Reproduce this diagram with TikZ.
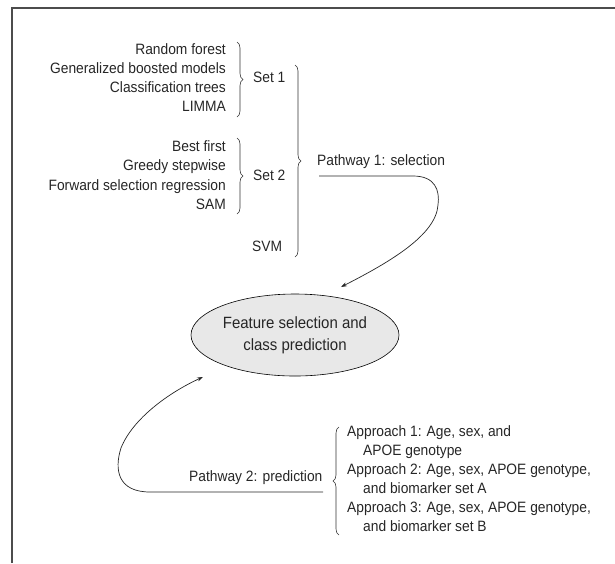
\documentclass[tikz,border=0pt]{standalone}
\usepackage{fontspec}
\setmainfont{Liberation Sans}[FakeStretch=0.92]
\usetikzlibrary{shapes.geometric, decorations.pathreplacing, arrows.meta}

\tikzset{
	lbl/.style={inner sep=0pt, text height=11pt, text depth=3pt, text=black!85, font=\fontsize{15}{19}\selectfont},
	brc/.style={decorate, decoration={brace, amplitude=6pt}, line width=0.6pt, black!80},
	flow/.style={line width=0.7pt, black!85, -{Stealth[length=6pt, width=4pt]}},
}

\begin{document}
\begin{tikzpicture}[x=1pt, y=-1pt]
		\useasboundingbox (0,0) rectangle (615,563);
		\draw[line width=1.5pt, black!70] (12,563) -- (12,8) -- (615,8);
		% set 1 and set 2 methods
		\foreach \t/\y [count=\i] in {Random forest/50, Generalized boosted models/69, Classification trees/88, LIMMA/107}
		{
			\node[lbl, anchor=east] (ma\i) at (226,\y) {\t};
		}
		\foreach \t/\y [count=\i] in {Best first/147, Greedy stepwise/166.5, Forward selection regression/186, SAM/205.5}
		{
			\node[lbl, anchor=east] (mb\i) at (226,\y) {\t};
		}
		\draw[brc] (237,42) -- (237,117);
		\draw[brc] (237,138) -- (237,214);
		\node[lbl, anchor=west] (set1) at (253,78) {Set 1};
		\node[lbl, anchor=west] (set2) at (253,176) {Set 2};
		\node[lbl, anchor=west] (svm) at (252,247) {SVM};
		\draw[brc] (295,65) -- (295,257);
		
		\node[ellipse, draw, line width=0.6pt, fill=gray!18, minimum width=208pt, minimum height=82pt, inner sep=0pt, align=center, text=black!85, font=\fontsize{16.3}{22}\selectfont] (fsp) at (295,335) {Feature selection and\\class prediction};
		
		% pathway 1
		\node[lbl, anchor=west] (pw1) at (317,161) {Pathway 1: selection};
		\coordinate (pw1s) at (319,176);
		\coordinate (pw1e) at (341,287);
		\draw[flow] (pw1s) -- (413,176) .. controls (435,176) and (440,190) .. (438,205) .. controls (436,235) and (390,262) .. (pw1e);
		
		% pathway 2
		\node[lbl, anchor=west] (pw2) at (189,477) {Pathway 2: prediction};
		\coordinate (pw2s) at (323,492);
		\coordinate (pw2e) at (203,377);
		\draw[flow] (pw2s) -- (150,492) .. controls (118,492) and (114,470) .. (121,448) .. controls (133,418) and (170,392) .. (pw2e);
		\draw[brc] (339,535) -- (339,427);
		\foreach \x/\y/\t [count=\i] in {347/432/{Approach 1: Age, sex, and}, 363/451/{APOE genotype}, 347/470/{Approach 2: Age, sex, APOE genotype,}, 363/489/{and biomarker set A}, 347/508/{Approach 3: Age, sex, APOE genotype,}, 363/527/{and biomarker set B}}
		{
			\node[lbl, anchor=west] (ap\i) at (\x,\y) {\t};
		}
	\end{tikzpicture}
\end{document}
